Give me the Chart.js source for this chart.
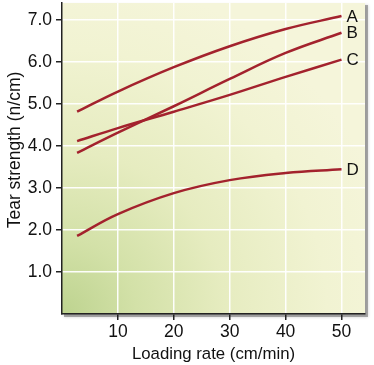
<!DOCTYPE html>
<html><head><meta charset="utf-8">
<script src="https://cdn.jsdelivr.net/npm/chart.js@4"></script>
<style>html,body{margin:0;padding:0;background:#fff}#wrap{width:374px;height:365px}</style>
</head><body><div id="wrap"><canvas id="c" width="374" height="365"></canvas></div>
<script>
// ---- data ----
const loadingRate = [2.7, 10, 20, 30, 40, 50];
const seriesA = [4.82, 5.30, 5.88, 6.38, 6.79, 7.10];
const seriesB = [3.84, 4.32, 4.95, 5.60, 6.22, 6.70];
const seriesC = [4.12, 4.43, 4.82, 5.22, 5.65, 6.06];
const seriesD = [1.86, 2.38, 2.88, 3.19, 3.36, 3.45];
const seriesNames = ['A', 'B', 'C', 'D'];
const xTickValues = [10, 20, 30, 40, 50];
const yTickValues = [1, 2, 3, 4, 5, 6, 7];
const xTitle = 'Loading rate (cm/min)';
const yTitle = 'Tear strength (n/cm)';

const FONT = "'Liberation Sans', Arial, Helvetica, sans-serif";
const LINE = '#a3222d';

const toPts = (ys) => ys.map((y, i) => ({ x: loadingRate[i], y }));
const allSeries = [seriesA, seriesB, seriesC, seriesD];

const bgPlugin = {
  id: 'bg',
  beforeDraw(chart) {
    const { ctx, chartArea: a } = chart;
    ctx.save();
    ctx.fillStyle = 'rgba(110,110,110,0.55)';
    ctx.shadowColor = 'rgba(0,0,0,0.35)';
    ctx.shadowBlur = 3;
    ctx.fillRect(a.left + 2, a.top + 2, a.right - a.left + 1, a.bottom - a.top + 1);
    ctx.shadowBlur = 0;
    const g = ctx.createRadialGradient(a.left, a.bottom, 0, a.left, a.bottom, 340);
    g.addColorStop(0, '#bdd38f');
    g.addColorStop(0.22, '#d3e1a8');
    g.addColorStop(0.48, '#e6ecc0');
    g.addColorStop(0.78, '#f1f3d2');
    g.addColorStop(1, '#f5f5da');
    ctx.fillStyle = g;
    ctx.fillRect(a.left, a.top, a.right - a.left, a.bottom - a.top);
    ctx.restore();
  },
  afterDraw(chart) {
    const { ctx } = chart;
    ctx.save();
    ctx.font = '17.5px ' + FONT;
    ctx.fillStyle = '#111';
    ctx.textAlign = 'center';
    ctx.textBaseline = 'middle';
    ctx.translate(15, 150);
    ctx.rotate(-Math.PI / 2);
    ctx.fillText(yTitle, 0, 0);
    ctx.restore();
  }
};

const labelPlugin = {
  id: 'endLabels',
  afterDatasetsDraw(chart) {
    const { ctx } = chart;
    ctx.save();
    ctx.font = '17px ' + FONT;
    ctx.fillStyle = '#111';
    ctx.textAlign = 'left';
    ctx.textBaseline = 'middle';
    chart.data.datasets.forEach((ds, i) => {
      const meta = chart.getDatasetMeta(i);
      const p = meta.data[meta.data.length - 1];
      ctx.fillText(ds.label, p.x + 5, p.y + 1);
    });
    ctx.restore();
  }
};

new Chart(document.getElementById('c'), {
  type: 'line',
  data: {
    datasets: allSeries.map((s, i) => ({
      label: seriesNames[i],
      data: toPts(s),
      borderColor: LINE,
      borderWidth: 2.5,
      pointRadius: 0,
      fill: false,
      tension: 0.4
    }))
  },
  options: {
    responsive: false,
    devicePixelRatio: 1,
    animation: false,
    layout: { padding: { top: 3, right: 9, left: 0, bottom: 0 } },
    plugins: { legend: { display: false }, tooltip: { enabled: false } },
    scales: {
      x: {
        type: 'linear',
        min: 0, max: 54.2,
        afterBuildTicks: (s) => { s.ticks = xTickValues.map(v => ({ value: v })); },
        afterFit: (s) => { s.height = 51; s.paddingLeft = 0; s.paddingRight = 0; },
        ticks: { font: { family: FONT, size: 17.5 }, color: '#111', padding: 2, maxRotation: 0, includeBounds: false },
        grid: { color: 'rgba(255,255,255,0.95)', lineWidth: 1.5, tickColor: '#222', tickLength: 6, tickWidth: 1.5 },
        border: { color: '#222', width: 1.5 },
        title: { display: true, text: xTitle, font: { family: FONT, size: 16.8 }, color: '#111', padding: { top: 0, bottom: 1 } }
      },
      y: {
        type: 'linear',
        min: 0, max: 7.41,
        afterBuildTicks: (s) => { s.ticks = yTickValues.map(v => ({ value: v })); },
        afterFit: (s) => { s.width = 62; s.paddingTop = 0; s.paddingBottom = 0; },
        ticks: { font: { family: FONT, size: 17.5 }, color: '#111', padding: 4, includeBounds: false,
                 callback: (v) => Number(v).toFixed(1) },
        grid: { color: 'rgba(255,255,255,0.95)', lineWidth: 1.5, tickColor: '#222', tickLength: 6, tickWidth: 1.5 },
        border: { color: '#222', width: 1.5 },
        title: { display: false }
      }
    }
  },
  plugins: [bgPlugin, labelPlugin]
});
</script>
</body></html>
